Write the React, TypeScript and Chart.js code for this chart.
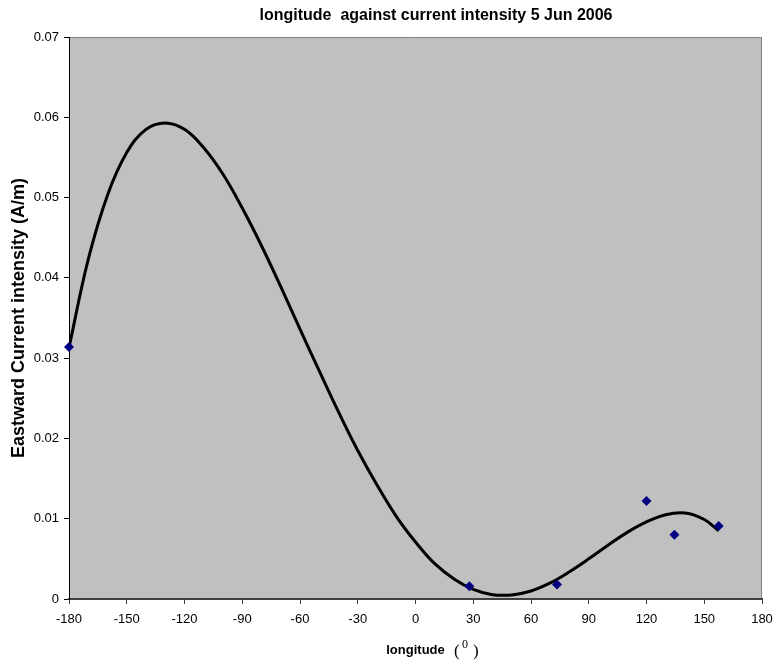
import React, { useEffect, useRef } from "react";
import { Chart, registerables } from "chart.js";

Chart.register(...registerables);

const TITLE = "longitude  against current intensity 5 Jun 2006";
const X_TITLE = "longitude";
const Y_TITLE = "Eastward Current intensity (A/m)";

// observed points
const obsLongitude = [-180, 28, 73.5, 120, 134.5, 157.5];
const obsCurrent = [0.0314, 0.0016, 0.0018, 0.0122, 0.008, 0.0091];

// trend curve
const trendLongitude = [-180, -170, -160, -150, -140, -130, -120, -110, -100, -90, -80, -70, -60, -50, -40, -30, -20, -10, 0, 10, 20, 30, 40, 50, 60, 70, 80, 90, 100, 110, 120, 130, 140, 150, 157.5];
const trendCurrent = [0.0313, 0.0423, 0.0503, 0.0556, 0.0585, 0.0593, 0.0585, 0.0562, 0.0529, 0.0487, 0.044, 0.0389, 0.0336, 0.0284, 0.0233, 0.0185, 0.0142, 0.0103, 0.0071, 0.0044, 0.0025, 0.0012, 0.00054, 0.00051, 0.001, 0.002, 0.0034, 0.005, 0.0067, 0.0083, 0.0096, 0.0105, 0.0107, 0.0099, 0.0085];

const X_MIN = -180;
const X_MAX = 180;
const X_STEP = 30;
const Y_MIN = 0;
const Y_MAX = 0.07;
const Y_STEP = 0.01;

const FONT = "Arial, 'Liberation Sans', sans-serif";
const SERIF = "'Liberation Serif', 'Times New Roman', serif";

const decor = {
  id: "decor",
  beforeDraw(chart: any) {
    const { ctx, chartArea: a } = chart;
    ctx.save();
    ctx.fillStyle = "#ffffff";
    ctx.fillRect(0, 0, chart.width, chart.height);
    ctx.fillStyle = "#c0c0c0";
    ctx.fillRect(a.left, a.top, a.right - a.left, a.bottom - a.top);
    ctx.strokeStyle = "#808080";
    ctx.lineWidth = 1;
    ctx.beginPath();
    ctx.moveTo(a.left, a.top + 0.5);
    ctx.lineTo(a.right - 0.5, a.top + 0.5);
    ctx.lineTo(a.right - 0.5, a.bottom);
    ctx.stroke();
    ctx.restore();
  },
  afterDraw(chart: any) {
    const { ctx } = chart;
    ctx.save();
    ctx.fillStyle = "#000";
    ctx.textBaseline = "middle";
    ctx.textAlign = "center";
    ctx.font = `bold 16px ${FONT}`;
    ctx.fillText(TITLE, 436, 16);
    ctx.textAlign = "left";
    ctx.font = `17px ${SERIF}`;
    ctx.fillText("(", 454, 652);
    ctx.fillText(")", 473, 652);
    ctx.font = `12px ${SERIF}`;
    ctx.fillText("0", 462, 645);
    ctx.restore();
  },
};

export default function App() {
  const ref = useRef<HTMLCanvasElement | null>(null);
  useEffect(() => {
    if (!ref.current) return;
    const chart = new Chart(ref.current, {
      type: "scatter",
      data: {
        datasets: [
          {
            label: "observed",
            data: obsLongitude.map((x, i) => ({ x, y: obsCurrent[i] })),
            pointStyle: "rectRot",
            pointRadius: 5,
            pointBackgroundColor: "#000080",
            pointBorderColor: "#000080",
            pointBorderWidth: 0,
            showLine: false,
            clip: false,
          },
          {
            label: "trend",
            data: trendLongitude.map((x, i) => ({ x, y: trendCurrent[i] })),
            showLine: true,
            borderColor: "#000000",
            borderWidth: 3,
            pointRadius: 0,
            tension: 0.4,
            fill: false,
          },
        ],
      },
      options: {
        animation: false,
        responsive: false,
        devicePixelRatio: 1,
        layout: { padding: { top: 37, right: 15, left: 0, bottom: 0 } },
        plugins: {
          legend: { display: false },
          tooltip: { enabled: false },
          title: { display: false },
        },
        scales: {
          x: {
            type: "linear",
            min: X_MIN,
            max: X_MAX,
            afterFit: (s: any) => {
              s.height = 71;
              s.paddingLeft = 0;
              s.paddingRight = 0;
            },
            ticks: {
              stepSize: X_STEP,
              color: "#000",
              font: { family: FONT, size: 13 },
              padding: 8,
              maxRotation: 0,
              autoSkip: false,
            },
            grid: {
              drawOnChartArea: false,
              drawTicks: true,
              tickLength: 5,
              color: "#404040",
            },
            border: { display: true, color: "#404040", width: 2 },
            title: {
              display: true,
              text: X_TITLE,
              color: "#000",
              font: { family: FONT, size: 13, weight: "bold" },
              padding: { top: 0, bottom: 12 },
            },
          },
          y: {
            type: "linear",
            min: Y_MIN,
            max: Y_MAX,
            afterFit: (s: any) => {
              s.width = 69;
            },
            ticks: {
              stepSize: Y_STEP,
              color: "#000",
              font: { family: FONT, size: 13 },
              padding: 5,
              callback: (v: any) => String(Number(Number(v).toFixed(2))),
            },
            grid: {
              drawOnChartArea: false,
              drawTicks: true,
              tickLength: 5,
              color: "#000",
            },
            border: { display: true, color: "#000", width: 1 },
            title: {
              display: true,
              text: Y_TITLE,
              color: "#000",
              font: { family: FONT, size: 18, weight: "bold" },
              padding: { top: 8, bottom: 0 },
            },
          },
        },
      },
      plugins: [decor],
    });
    return () => chart.destroy();
  }, []);

  return (
    <div style={{ position: "fixed", left: 0, top: 0, width: 777, height: 670, background: "#fff" }}>
      <canvas ref={ref} width={777} height={670} />
    </div>
  );
}
